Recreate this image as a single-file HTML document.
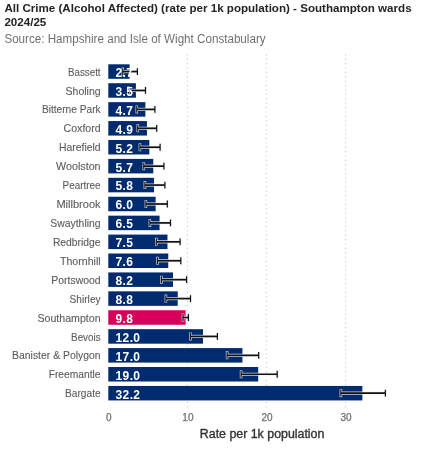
<!DOCTYPE html>
<html><head><meta charset="utf-8"><style>
html,body{margin:0;padding:0;background:#fff;width:422px;height:449px;overflow:hidden}
svg{display:block;filter:blur(0.3px)}
text{font-family:"Liberation Sans",sans-serif}
</style></head><body>
<svg width="422" height="449" viewBox="0 0 422 449">

<text x="4.4" y="11.9" font-size="11.6" font-weight="700" fill="#252423" textLength="407.2" lengthAdjust="spacingAndGlyphs">All Crime (Alcohol Affected) (rate per 1k population) - Southampton wards</text>
<text x="4.4" y="26.1" font-size="11.6" font-weight="700" fill="#252423">2024/25</text>
<text x="4.4" y="42.5" font-size="12" fill="#707070" textLength="261.2" lengthAdjust="spacingAndGlyphs">Source: Hampshire and Isle of Wight Constabulary</text>
<line x1="187.40" y1="54.2" x2="187.40" y2="409" stroke="#d0d0d0" stroke-width="1.2" stroke-dasharray="1.2 3.2"/>
<line x1="266.50" y1="54.2" x2="266.50" y2="409" stroke="#d0d0d0" stroke-width="1.2" stroke-dasharray="1.2 3.2"/>
<line x1="345.60" y1="54.2" x2="345.60" y2="409" stroke="#d0d0d0" stroke-width="1.2" stroke-dasharray="1.2 3.2"/>
<rect x="108.3" y="64.30" width="21.30" height="14.5" fill="#002b6f"/>
<text x="68.0" y="75.65" font-size="11.4" fill="#5c5c5c" stroke="#5c5c5c" stroke-width="0.12" textLength="32.6" lengthAdjust="spacingAndGlyphs">Bassett</text>
<rect x="108.3" y="83.22" width="27.61" height="14.5" fill="#002b6f"/>
<text x="65.6" y="94.57" font-size="11.4" fill="#5c5c5c" stroke="#5c5c5c" stroke-width="0.12" textLength="35.0" lengthAdjust="spacingAndGlyphs">Sholing</text>
<rect x="108.3" y="102.14" width="37.08" height="14.5" fill="#002b6f"/>
<text x="41.9" y="113.49" font-size="11.4" fill="#5c5c5c" stroke="#5c5c5c" stroke-width="0.12" textLength="58.7" lengthAdjust="spacingAndGlyphs">Bitterne Park</text>
<rect x="108.3" y="121.06" width="38.66" height="14.5" fill="#002b6f"/>
<text x="63.6" y="132.41" font-size="11.4" fill="#5c5c5c" stroke="#5c5c5c" stroke-width="0.12" textLength="37.0" lengthAdjust="spacingAndGlyphs">Coxford</text>
<rect x="108.3" y="139.98" width="41.03" height="14.5" fill="#002b6f"/>
<text x="59.0" y="151.33" font-size="11.4" fill="#5c5c5c" stroke="#5c5c5c" stroke-width="0.12" textLength="41.6" lengthAdjust="spacingAndGlyphs">Harefield</text>
<rect x="108.3" y="158.90" width="44.97" height="14.5" fill="#002b6f"/>
<text x="56.0" y="170.25" font-size="11.4" fill="#5c5c5c" stroke="#5c5c5c" stroke-width="0.12" textLength="44.6" lengthAdjust="spacingAndGlyphs">Woolston</text>
<rect x="108.3" y="177.82" width="45.76" height="14.5" fill="#002b6f"/>
<text x="62.6" y="189.17" font-size="11.4" fill="#5c5c5c" stroke="#5c5c5c" stroke-width="0.12" textLength="38.0" lengthAdjust="spacingAndGlyphs">Peartree</text>
<rect x="108.3" y="196.74" width="47.34" height="14.5" fill="#002b6f"/>
<text x="56.4" y="208.09" font-size="11.4" fill="#5c5c5c" stroke="#5c5c5c" stroke-width="0.12" textLength="44.2" lengthAdjust="spacingAndGlyphs">Millbrook</text>
<rect x="108.3" y="215.66" width="51.28" height="14.5" fill="#002b6f"/>
<text x="50.3" y="227.01" font-size="11.4" fill="#5c5c5c" stroke="#5c5c5c" stroke-width="0.12" textLength="50.3" lengthAdjust="spacingAndGlyphs">Swaythling</text>
<rect x="108.3" y="234.58" width="59.17" height="14.5" fill="#002b6f"/>
<text x="52.9" y="245.93" font-size="11.4" fill="#5c5c5c" stroke="#5c5c5c" stroke-width="0.12" textLength="47.7" lengthAdjust="spacingAndGlyphs">Redbridge</text>
<rect x="108.3" y="253.50" width="59.96" height="14.5" fill="#002b6f"/>
<text x="60.0" y="264.85" font-size="11.4" fill="#5c5c5c" stroke="#5c5c5c" stroke-width="0.12" textLength="40.6" lengthAdjust="spacingAndGlyphs">Thornhill</text>
<rect x="108.3" y="272.42" width="64.70" height="14.5" fill="#002b6f"/>
<text x="51.3" y="283.77" font-size="11.4" fill="#5c5c5c" stroke="#5c5c5c" stroke-width="0.12" textLength="49.3" lengthAdjust="spacingAndGlyphs">Portswood</text>
<rect x="108.3" y="291.34" width="69.43" height="14.5" fill="#002b6f"/>
<text x="69.6" y="302.69" font-size="11.4" fill="#5c5c5c" stroke="#5c5c5c" stroke-width="0.12" textLength="31.0" lengthAdjust="spacingAndGlyphs">Shirley</text>
<rect x="108.3" y="310.26" width="77.32" height="14.5" fill="#d6005a"/>
<text x="37.4" y="321.61" font-size="11.4" fill="#5c5c5c" stroke="#5c5c5c" stroke-width="0.12" textLength="63.2" lengthAdjust="spacingAndGlyphs">Southampton</text>
<rect x="108.3" y="329.18" width="94.68" height="14.5" fill="#002b6f"/>
<text x="71.1" y="340.53" font-size="11.4" fill="#5c5c5c" stroke="#5c5c5c" stroke-width="0.12" textLength="29.5" lengthAdjust="spacingAndGlyphs">Bevois</text>
<rect x="108.3" y="348.10" width="134.13" height="14.5" fill="#002b6f"/>
<text x="12.1" y="359.45" font-size="11.4" fill="#5c5c5c" stroke="#5c5c5c" stroke-width="0.12" textLength="88.5" lengthAdjust="spacingAndGlyphs">Banister &amp; Polygon</text>
<rect x="108.3" y="367.02" width="149.91" height="14.5" fill="#002b6f"/>
<text x="48.7" y="378.37" font-size="11.4" fill="#5c5c5c" stroke="#5c5c5c" stroke-width="0.12" textLength="51.9" lengthAdjust="spacingAndGlyphs">Freemantle</text>
<rect x="108.3" y="385.94" width="254.06" height="14.5" fill="#002b6f"/>
<text x="65.1" y="397.29" font-size="11.4" fill="#5c5c5c" stroke="#5c5c5c" stroke-width="0.12" textLength="35.5" lengthAdjust="spacingAndGlyphs">Bargate</text>
<g stroke="#eef0f4" stroke-opacity="0.85" fill="none"><path stroke-width="3.2" d="M122.8 71.55H137.4"/><path stroke-width="2.6" d="M122.8 67.55V75.55M137.4 67.55V75.55"/></g>
<g stroke="#111" fill="none"><path stroke-width="1.7" d="M122.8 71.55H137.4"/><path stroke-width="1.2" d="M122.8 68.15V74.95M137.4 68.15V74.95"/></g>
<g stroke="#eef0f4" stroke-opacity="0.85" fill="none"><path stroke-width="3.2" d="M128.5 90.47H145.5"/><path stroke-width="2.6" d="M128.5 86.47V94.47M145.5 86.47V94.47"/></g>
<g stroke="#111" fill="none"><path stroke-width="1.7" d="M128.5 90.47H145.5"/><path stroke-width="1.2" d="M128.5 87.07V93.87M145.5 87.07V93.87"/></g>
<g stroke="#eef0f4" stroke-opacity="0.85" fill="none"><path stroke-width="3.2" d="M136.8 109.39H154.9"/><path stroke-width="2.6" d="M136.8 105.39V113.39M154.9 105.39V113.39"/></g>
<g stroke="#111" fill="none"><path stroke-width="1.7" d="M136.8 109.39H154.9"/><path stroke-width="1.2" d="M136.8 105.99V112.79M154.9 105.99V112.79"/></g>
<g stroke="#eef0f4" stroke-opacity="0.85" fill="none"><path stroke-width="3.2" d="M137.8 128.31H156.7"/><path stroke-width="2.6" d="M137.8 124.31V132.31M156.7 124.31V132.31"/></g>
<g stroke="#111" fill="none"><path stroke-width="1.7" d="M137.8 128.31H156.7"/><path stroke-width="1.2" d="M137.8 124.91V131.71M156.7 124.91V131.71"/></g>
<g stroke="#eef0f4" stroke-opacity="0.85" fill="none"><path stroke-width="3.2" d="M139.9 147.23H160.1"/><path stroke-width="2.6" d="M139.9 143.23V151.23M160.1 143.23V151.23"/></g>
<g stroke="#111" fill="none"><path stroke-width="1.7" d="M139.9 147.23H160.1"/><path stroke-width="1.2" d="M139.9 143.83V150.63M160.1 143.83V150.63"/></g>
<g stroke="#eef0f4" stroke-opacity="0.85" fill="none"><path stroke-width="3.2" d="M143.8 166.15H163.9"/><path stroke-width="2.6" d="M143.8 162.15V170.15M163.9 162.15V170.15"/></g>
<g stroke="#111" fill="none"><path stroke-width="1.7" d="M143.8 166.15H163.9"/><path stroke-width="1.2" d="M143.8 162.75V169.55M163.9 162.75V169.55"/></g>
<g stroke="#eef0f4" stroke-opacity="0.85" fill="none"><path stroke-width="3.2" d="M144.9 185.07H164.9"/><path stroke-width="2.6" d="M144.9 181.07V189.07M164.9 181.07V189.07"/></g>
<g stroke="#111" fill="none"><path stroke-width="1.7" d="M144.9 185.07H164.9"/><path stroke-width="1.2" d="M144.9 181.67V188.47M164.9 181.67V188.47"/></g>
<g stroke="#eef0f4" stroke-opacity="0.85" fill="none"><path stroke-width="3.2" d="M145.9 203.99H167.3"/><path stroke-width="2.6" d="M145.9 199.99V207.99M167.3 199.99V207.99"/></g>
<g stroke="#111" fill="none"><path stroke-width="1.7" d="M145.9 203.99H167.3"/><path stroke-width="1.2" d="M145.9 200.59V207.39M167.3 200.59V207.39"/></g>
<g stroke="#eef0f4" stroke-opacity="0.85" fill="none"><path stroke-width="3.2" d="M149.9 222.91H170.5"/><path stroke-width="2.6" d="M149.9 218.91V226.91M170.5 218.91V226.91"/></g>
<g stroke="#111" fill="none"><path stroke-width="1.7" d="M149.9 222.91H170.5"/><path stroke-width="1.2" d="M149.9 219.51V226.31M170.5 219.51V226.31"/></g>
<g stroke="#eef0f4" stroke-opacity="0.85" fill="none"><path stroke-width="3.2" d="M156.3 241.83H180.1"/><path stroke-width="2.6" d="M156.3 237.83V245.83M180.1 237.83V245.83"/></g>
<g stroke="#111" fill="none"><path stroke-width="1.7" d="M156.3 241.83H180.1"/><path stroke-width="1.2" d="M156.3 238.43V245.23M180.1 238.43V245.23"/></g>
<g stroke="#eef0f4" stroke-opacity="0.85" fill="none"><path stroke-width="3.2" d="M157.5 260.75H180.8"/><path stroke-width="2.6" d="M157.5 256.75V264.75M180.8 256.75V264.75"/></g>
<g stroke="#111" fill="none"><path stroke-width="1.7" d="M157.5 260.75H180.8"/><path stroke-width="1.2" d="M157.5 257.35V264.15M180.8 257.35V264.15"/></g>
<g stroke="#eef0f4" stroke-opacity="0.85" fill="none"><path stroke-width="3.2" d="M161.4 279.67H186.6"/><path stroke-width="2.6" d="M161.4 275.67V283.67M186.6 275.67V283.67"/></g>
<g stroke="#111" fill="none"><path stroke-width="1.7" d="M161.4 279.67H186.6"/><path stroke-width="1.2" d="M161.4 276.27V283.07M186.6 276.27V283.07"/></g>
<g stroke="#eef0f4" stroke-opacity="0.85" fill="none"><path stroke-width="3.2" d="M165.9 298.59H190.5"/><path stroke-width="2.6" d="M165.9 294.59V302.59M190.5 294.59V302.59"/></g>
<g stroke="#111" fill="none"><path stroke-width="1.7" d="M165.9 298.59H190.5"/><path stroke-width="1.2" d="M165.9 295.19V301.99M190.5 295.19V301.99"/></g>
<g stroke="#eef0f4" stroke-opacity="0.85" fill="none"><path stroke-width="3.2" d="M183.0 317.51H188.4"/><path stroke-width="2.6" d="M183.0 313.51V321.51M188.4 313.51V321.51"/></g>
<g stroke="#111" fill="none"><path stroke-width="1.7" d="M183.0 317.51H188.4"/><path stroke-width="1.2" d="M183.0 314.11V320.91M188.4 314.11V320.91"/></g>
<g stroke="#eef0f4" stroke-opacity="0.85" fill="none"><path stroke-width="3.2" d="M190.4 336.43H217.4"/><path stroke-width="2.6" d="M190.4 332.43V340.43M217.4 332.43V340.43"/></g>
<g stroke="#111" fill="none"><path stroke-width="1.7" d="M190.4 336.43H217.4"/><path stroke-width="1.2" d="M190.4 333.03V339.83M217.4 333.03V339.83"/></g>
<g stroke="#eef0f4" stroke-opacity="0.85" fill="none"><path stroke-width="3.2" d="M227.1 355.35H258.7"/><path stroke-width="2.6" d="M227.1 351.35V359.35M258.7 351.35V359.35"/></g>
<g stroke="#111" fill="none"><path stroke-width="1.7" d="M227.1 355.35H258.7"/><path stroke-width="1.2" d="M227.1 351.95V358.75M258.7 351.95V358.75"/></g>
<g stroke="#eef0f4" stroke-opacity="0.85" fill="none"><path stroke-width="3.2" d="M241.1 374.27H277.2"/><path stroke-width="2.6" d="M241.1 370.27V378.27M277.2 370.27V378.27"/></g>
<g stroke="#111" fill="none"><path stroke-width="1.7" d="M241.1 374.27H277.2"/><path stroke-width="1.2" d="M241.1 370.87V377.67M277.2 370.87V377.67"/></g>
<g stroke="#eef0f4" stroke-opacity="0.85" fill="none"><path stroke-width="3.2" d="M340.9 393.19H385.4"/><path stroke-width="2.6" d="M340.9 389.19V397.19M385.4 389.19V397.19"/></g>
<g stroke="#111" fill="none"><path stroke-width="1.7" d="M340.9 393.19H385.4"/><path stroke-width="1.2" d="M340.9 389.79V396.59M385.4 389.79V396.59"/></g>
<text x="115.6" y="76.95" font-size="12" font-weight="700" letter-spacing="0.35" fill="#fff">2.7</text>
<text x="115.6" y="95.87" font-size="12" font-weight="700" letter-spacing="0.35" fill="#fff">3.5</text>
<text x="115.6" y="114.79" font-size="12" font-weight="700" letter-spacing="0.35" fill="#fff">4.7</text>
<text x="115.6" y="133.71" font-size="12" font-weight="700" letter-spacing="0.35" fill="#fff">4.9</text>
<text x="115.6" y="152.63" font-size="12" font-weight="700" letter-spacing="0.35" fill="#fff">5.2</text>
<text x="115.6" y="171.55" font-size="12" font-weight="700" letter-spacing="0.35" fill="#fff">5.7</text>
<text x="115.6" y="190.47" font-size="12" font-weight="700" letter-spacing="0.35" fill="#fff">5.8</text>
<text x="115.6" y="209.39" font-size="12" font-weight="700" letter-spacing="0.35" fill="#fff">6.0</text>
<text x="115.6" y="228.31" font-size="12" font-weight="700" letter-spacing="0.35" fill="#fff">6.5</text>
<text x="115.6" y="247.23" font-size="12" font-weight="700" letter-spacing="0.35" fill="#fff">7.5</text>
<text x="115.6" y="266.15" font-size="12" font-weight="700" letter-spacing="0.35" fill="#fff">7.6</text>
<text x="115.6" y="285.07" font-size="12" font-weight="700" letter-spacing="0.35" fill="#fff">8.2</text>
<text x="115.6" y="303.99" font-size="12" font-weight="700" letter-spacing="0.35" fill="#fff">8.8</text>
<text x="115.6" y="322.91" font-size="12" font-weight="700" letter-spacing="0.35" fill="#fff">9.8</text>
<text x="115.6" y="341.83" font-size="12" font-weight="700" letter-spacing="0.35" fill="#fff">12.0</text>
<text x="115.6" y="360.75" font-size="12" font-weight="700" letter-spacing="0.35" fill="#fff">17.0</text>
<text x="115.6" y="379.67" font-size="12" font-weight="700" letter-spacing="0.35" fill="#fff">19.0</text>
<text x="115.6" y="398.59" font-size="12" font-weight="700" letter-spacing="0.35" fill="#fff">32.2</text>
<text x="108.80" y="421.2" font-size="10" fill="#707070" stroke="#707070" stroke-width="0.25" text-anchor="middle">0</text>
<text x="187.90" y="421.2" font-size="10" fill="#707070" stroke="#707070" stroke-width="0.25" text-anchor="middle">10</text>
<text x="267.00" y="421.2" font-size="10" fill="#707070" stroke="#707070" stroke-width="0.25" text-anchor="middle">20</text>
<text x="346.10" y="421.2" font-size="10" fill="#707070" stroke="#707070" stroke-width="0.25" text-anchor="middle">30</text>
<text x="199.8" y="438.4" font-size="12" fill="#333" stroke="#333" stroke-width="0.35" textLength="124.6" lengthAdjust="spacingAndGlyphs">Rate per 1k population</text>
</svg></body></html>
